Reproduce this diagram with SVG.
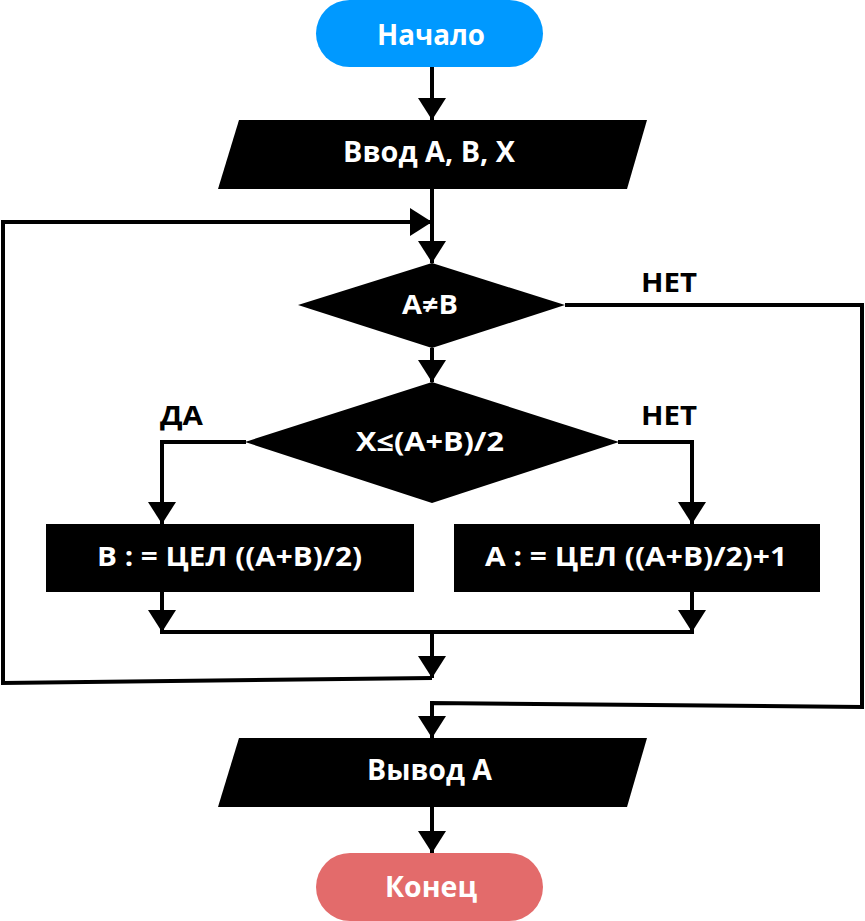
<svg xmlns="http://www.w3.org/2000/svg" width="865" height="921" viewBox="0 0 865 921">
<defs>
<style>
.ln{fill:none;stroke:#000;stroke-width:4;stroke-linejoin:miter}
.t{font-family:"Open Sans","Noto Sans",sans-serif;font-weight:bold;font-size:28px;fill:#fff}
.s{font-size:26px}
.lb{font-family:"Open Sans","Noto Sans",sans-serif;font-weight:bold;font-size:26px;fill:#000}
.blk{fill:#000}
</style>
<marker id="ah" markerUnits="userSpaceOnUse" markerWidth="24" markerHeight="30" viewBox="0 0 24 30" refX="22" refY="15" orient="auto">
<path d="M0,1 L22,15 L0,29 z" fill="#000"/>
</marker>
</defs>
<rect width="865" height="921" fill="#fff"/>
<g id="connectors">
<path class="ln" d="M432,67 V120" marker-end="url(#ah)"/>
<path class="ln" d="M432,189 V263" marker-end="url(#ah)"/>
<path class="ln" d="M432,678 L3,683 V222 H432" marker-end="url(#ah)"/>
<path class="ln" d="M432,348 V382" marker-end="url(#ah)"/>
<path class="ln" d="M565,305 H862 V707 L432,703 V738" marker-end="url(#ah)"/>
<path class="ln" d="M246,442 H162 V524" marker-end="url(#ah)"/>
<path class="ln" d="M618,442 H692 V524" marker-end="url(#ah)"/>
<path class="ln" d="M162,592 V632" marker-end="url(#ah)"/>
<path class="ln" d="M692,592 V632" marker-end="url(#ah)"/>
<path class="ln" d="M160,632 H694"/>
<path class="ln" d="M432,632 V678" marker-end="url(#ah)"/>
<path class="ln" d="M432,807 V853" marker-end="url(#ah)"/>
<text class="lb" x="641" y="292" textLength="56" lengthAdjust="spacingAndGlyphs">НЕТ</text>
<text class="lb" x="160" y="425" textLength="43" lengthAdjust="spacingAndGlyphs">ДА</text>
<text class="lb" x="641" y="425" textLength="56" lengthAdjust="spacingAndGlyphs">НЕТ</text>
</g>
<g id="start">
<rect x="316" y="0" width="227" height="67" rx="33.5" fill="#0099FF"/>
<text class="t" x="377" y="45" textLength="108" lengthAdjust="spacingAndGlyphs">Начало</text>
</g>
<g id="input">
<polygon class="blk" points="239,120 647,120 627,189 218,189"/>
<text class="t" x="343" y="162" textLength="172" lengthAdjust="spacingAndGlyphs">Ввод А, В, Х</text>
</g>
<g id="cond1">
<polygon class="blk" points="432,263 565,305 432,348 298,305"/>
<text class="t s" x="402" y="314" textLength="56" lengthAdjust="spacingAndGlyphs">А≠В</text>
</g>
<g id="cond2">
<polygon class="blk" points="432,382 619,442 432,503 245,442"/>
<text class="t s" x="356" y="451" textLength="148" lengthAdjust="spacingAndGlyphs">X≤(А+В)/2</text>
</g>
<g id="setB">
<rect class="blk" x="46" y="524" width="368" height="68"/>
<text class="t s" x="97" y="566" textLength="265" lengthAdjust="spacingAndGlyphs">В : = ЦЕЛ ((А+В)/2)</text>
</g>
<g id="setA">
<rect class="blk" x="454" y="524" width="366" height="68"/>
<text class="t s" x="485" y="566" textLength="302" lengthAdjust="spacingAndGlyphs">А : = ЦЕЛ ((А+В)/2)+1</text>
</g>
<g id="output">
<polygon class="blk" points="239,738 647,738 627,807 218,807"/>
<text class="t" x="367" y="780" textLength="125" lengthAdjust="spacingAndGlyphs">Вывод А</text>
</g>
<g id="end">
<rect x="316" y="853" width="227" height="68" rx="34" fill="#E36B6B"/>
<text class="t" x="385" y="897" textLength="92" lengthAdjust="spacingAndGlyphs">Конец</text>
</g>
</svg>
